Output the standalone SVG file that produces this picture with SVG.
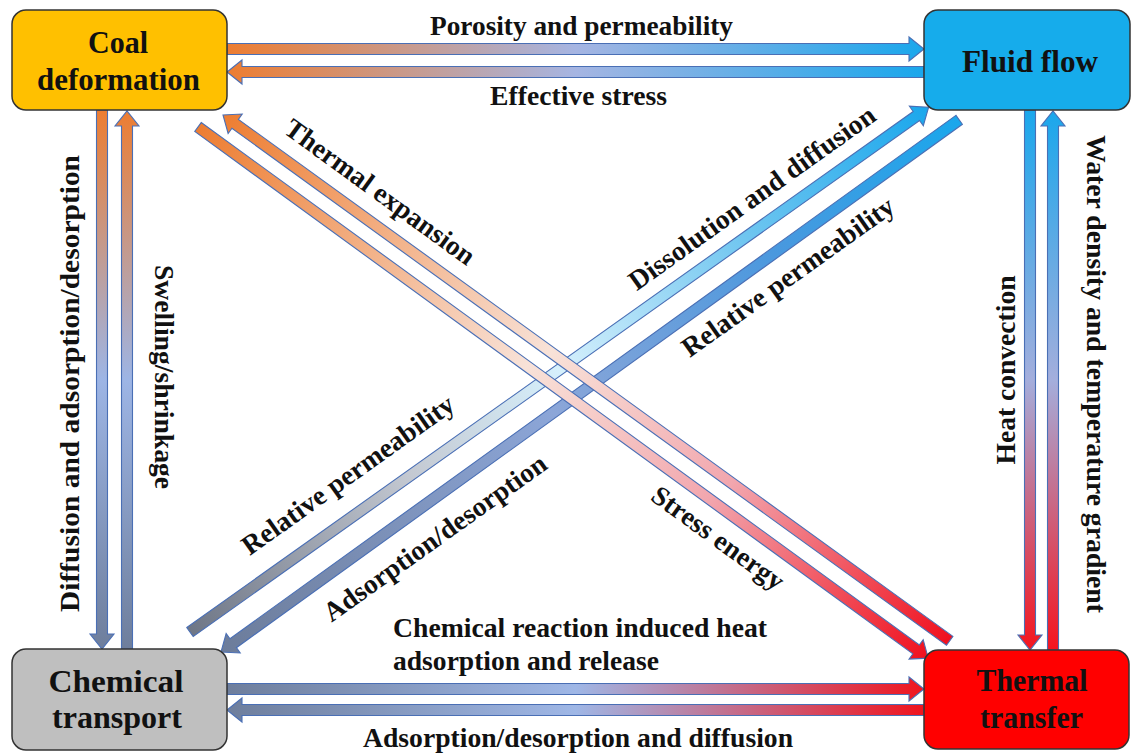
<svg xmlns="http://www.w3.org/2000/svg" width="1131" height="753" viewBox="0 0 1131 753">
<defs>
<linearGradient id="gTop" x1="0" y1="0" x2="1" y2="0"><stop offset="0" stop-color="#ED7D31"/><stop offset="0.5" stop-color="#A6B5E2"/><stop offset="1" stop-color="#1AA7EC"/></linearGradient>
<linearGradient id="gLeft" x1="0" y1="0" x2="1" y2="0"><stop offset="0" stop-color="#ED7D31"/><stop offset="0.5" stop-color="#9DB5E5"/><stop offset="1" stop-color="#6E7E9C"/></linearGradient>
<linearGradient id="gRight" x1="0" y1="0" x2="1" y2="0"><stop offset="0" stop-color="#1AA7EC"/><stop offset="0.5" stop-color="#A4AEDC"/><stop offset="1" stop-color="#F5141E"/></linearGradient>
<linearGradient id="gBot" x1="0" y1="0" x2="1" y2="0"><stop offset="0" stop-color="#6E7E9C"/><stop offset="0.5" stop-color="#9FB7E6"/><stop offset="1" stop-color="#F0141E"/></linearGradient>
<linearGradient id="gCT" x1="0" y1="0" x2="1" y2="0"><stop offset="0" stop-color="#ED7D31"/><stop offset="0.45" stop-color="#F8E2D8"/><stop offset="0.7" stop-color="#F2A6AE"/><stop offset="1" stop-color="#F0101E"/></linearGradient>
<linearGradient id="gC" x1="0" y1="0" x2="1" y2="0"><stop offset="0" stop-color="#6E7686"/><stop offset="0.3" stop-color="#C4C9D2"/><stop offset="0.5" stop-color="#D6F0FC"/><stop offset="0.75" stop-color="#70C6F0"/><stop offset="1" stop-color="#1AA7EC"/></linearGradient>
<linearGradient id="gD" x1="0" y1="0" x2="1" y2="0"><stop offset="0" stop-color="#6C7C9A"/><stop offset="0.45" stop-color="#8CA6D8"/><stop offset="0.75" stop-color="#4A98DE"/><stop offset="1" stop-color="#1AA7EC"/></linearGradient>
</defs>
<style>
.arr{stroke:#4A6FB5;stroke-width:1.1;stroke-linejoin:miter}
.box{stroke:#333;stroke-width:1.5}
.bt{font-family:'Liberation Serif','Times New Roman',serif;font-weight:bold;fill:#111;font-size:31px;text-anchor:middle}
.lb{font-family:'Liberation Serif','Times New Roman',serif;font-weight:bold;fill:#111;font-size:27.5px}
.mid{text-anchor:middle}
</style>
<rect width="1131" height="753" fill="#fff"/>
<g id="connectors">
<path id="t1" class="arr" fill="url(#gTop)" transform="translate(227,49)" d="M0,-5.5H682V-12L697,0L682,12V5.5H0Z"/>
<path id="t2" class="arr" fill="url(#gTop)" transform="translate(227,72)" d="M697,-5.5H15V-12L0,0L15,12V5.5H697Z"/>
<path id="v1" class="arr" fill="url(#gLeft)" transform="translate(102,110) rotate(90)" d="M0,-5.5H524V-12L539,0L524,12V5.5H0Z"/>
<path id="v2" class="arr" fill="url(#gLeft)" transform="translate(127,111) rotate(90)" d="M538,-5.5H15V-12L0,0L15,12V5.5H538Z"/>
<path id="r1" class="arr" fill="url(#gRight)" transform="translate(1030,110) rotate(90)" d="M0,-5.5H525V-12L540,0L525,12V5.5H0Z"/>
<path id="r2" class="arr" fill="url(#gRight)" transform="translate(1053,111) rotate(90)" d="M539,-5.5H15V-12L0,0L15,12V5.5H539Z"/>
<path id="b1" class="arr" fill="url(#gBot)" transform="translate(227,689)" d="M0,-5.5H682V-12L697,0L682,12V5.5H0Z"/>
<path id="b2" class="arr" fill="url(#gBot)" transform="translate(227,710)" d="M697,-5.5H15V-12L0,0L15,12V5.5H697Z"/>
<path id="dc" class="arr" fill="url(#gC)" transform="translate(190,632) rotate(-35.39)" d="M0,-5.5H891V-12L906,0L891,12V5.5H0Z"/>
<path id="dd" class="arr" fill="url(#gD)" transform="translate(221,652) rotate(-35.79)" d="M910,-5.5H15V-12L0,0L15,12V5.5H910Z"/>
<path id="da" class="arr" fill="url(#gCT)" transform="translate(198,127) rotate(36.03)" d="M0,-5.5H888V-12L903,0L888,12V5.5H0Z"/>
<path id="db" class="arr" fill="url(#gCT)" transform="translate(223,115) rotate(35.89)" d="M897,-5.5H15V-12L0,0L15,12V5.5H897Z"/>
</g>
<g id="labels">
<text class="lb mid" x="581.5" y="35" textLength="303" lengthAdjust="spacingAndGlyphs">Porosity and permeability</text>
<text class="lb mid" x="578.5" y="105" textLength="177" lengthAdjust="spacingAndGlyphs">Effective stress</text>
<text class="lb mid" transform="translate(79,383.5) rotate(-90)" x="0" y="0" textLength="457" lengthAdjust="spacingAndGlyphs">Diffusion and adsorption/desorption</text>
<text class="lb mid" transform="translate(155,377) rotate(90)" x="0" y="0" textLength="224" lengthAdjust="spacingAndGlyphs">Swelling/shrinkage</text>
<text class="lb mid" transform="translate(1015,370) rotate(-90)" x="0" y="0" textLength="189" lengthAdjust="spacingAndGlyphs">Heat convection</text>
<text class="lb mid" transform="translate(1087,374) rotate(90)" x="0" y="0" textLength="478" lengthAdjust="spacingAndGlyphs">Water density and temperature gradient</text>
<text class="lb" x="393" y="637" textLength="374" lengthAdjust="spacingAndGlyphs">Chemical reaction induced heat</text>
<text class="lb" x="393" y="670" textLength="266" lengthAdjust="spacingAndGlyphs">adsorption and release</text>
<text class="lb" x="363" y="747" textLength="430" lengthAdjust="spacingAndGlyphs">Adsorption/desorption and diffusion</text>
<text class="lb mid" transform="translate(380,192) rotate(36)" x="0" y="9" textLength="228" lengthAdjust="spacingAndGlyphs">Thermal expansion</text>
<text class="lb mid" transform="translate(718,538) rotate(36)" x="0" y="9" textLength="157" lengthAdjust="spacingAndGlyphs">Stress energy</text>
<text class="lb mid" transform="translate(752,198) rotate(-35.5)" x="0" y="9" textLength="296" lengthAdjust="spacingAndGlyphs">Dissolution and diffusion</text>
<text class="lb mid" transform="translate(788,277) rotate(-35.5)" x="0" y="9" textLength="254" lengthAdjust="spacingAndGlyphs">Relative permeability</text>
<text class="lb mid" transform="translate(348,475) rotate(-35.5)" x="0" y="9" textLength="254" lengthAdjust="spacingAndGlyphs">Relative permeability</text>
<text class="lb mid" transform="translate(435,538) rotate(-35.5)" x="0" y="9" textLength="267" lengthAdjust="spacingAndGlyphs">Adsorption/desorption</text>
</g>
<g id="coal">
<rect class="box" x="12" y="10" width="215" height="100" rx="14" fill="#FFC000"/>
<text class="bt" x="118" y="53" textLength="60" lengthAdjust="spacingAndGlyphs">Coal</text>
<text class="bt" x="118.5" y="90" textLength="163" lengthAdjust="spacingAndGlyphs">deformation</text>
</g>
<g id="fluid">
<rect class="box" x="924" y="10" width="206" height="100" rx="14" fill="#16ACEB"/>
<text class="bt" x="1030" y="72" textLength="136" lengthAdjust="spacingAndGlyphs">Fluid flow</text>
</g>
<g id="chemical">
<rect class="box" x="12" y="649" width="215" height="101" rx="14" fill="#BFBFBF"/>
<text class="bt" x="116" y="692" textLength="135" lengthAdjust="spacingAndGlyphs">Chemical</text>
<text class="bt" x="117" y="728" textLength="130" lengthAdjust="spacingAndGlyphs">transport</text>
</g>
<g id="thermal">
<rect class="box" x="924" y="650" width="205" height="99" rx="14" fill="#FF0000"/>
<text class="bt" x="1032" y="691" textLength="111" lengthAdjust="spacingAndGlyphs">Thermal</text>
<text class="bt" x="1031.5" y="728" textLength="103" lengthAdjust="spacingAndGlyphs">transfer</text>
</g>
</svg>
